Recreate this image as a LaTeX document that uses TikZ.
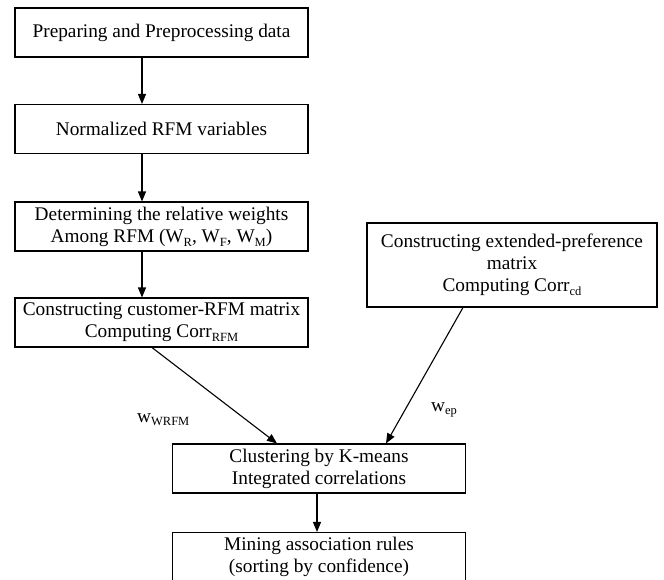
\documentclass[tikz,border=0pt]{standalone}
\usepackage{fontspec}
\setmainfont{Liberation Serif}
\usetikzlibrary{arrows.meta,positioning,calc}
\newcommand{\lowsub}[1]{\raisebox{-0.45ex}{\fontsize{12.5}{14}\selectfont #1}}

\begin{document}
\begin{tikzpicture}[
    x=1pt, y=-1pt,
    stage/.style={draw=black, line width=1.1pt, inner sep=1pt, align=center,
      minimum width=293pt, minimum height=49pt, font=\fontsize{19.3}{22}\selectfont},
    flow/.style={-{Triangle[length=10pt,width=8pt]}, line width=1.1pt},
    weight/.style={anchor=base west, inner sep=0pt, font=\fontsize{19.3}{22}\selectfont}
  ]
    \useasboundingbox (0,0) rectangle (664,579);
    % left column
    \node[stage] (prep)    at (161.5,32.5)  {Preparing and Preprocessing data};
    \node[stage] (norm)    at (161.5,129)   {Normalized RFM variables};
    \node[stage] (weights) at (161.5,226.5) {Determining the relative weights\\
      Among RFM (W\lowsub{R}, W\lowsub{F}, W\lowsub{M})};
    \node[stage] (crfm)    at (161.5,322.5) {Constructing customer-RFM matrix\\
      Computing Corr\lowsub{RFM}};
    % right branch
    \node[stage, minimum width=290pt, minimum height=84pt] (extpref) at (512,265)
      {Constructing extended-preference\\ matrix\\ Computing Corr\lowsub{cd}};
    % merged steps
    \node[stage] (cluster) at (319,468.5) {Clustering by K-means\\ Integrated correlations};
    \node[stage] (mining)  at (319,557)   {Mining association rules\\ (sorting by confidence)};
    % arrows
    \draw[flow] ([xshift=-19.5pt]prep.south)    -- ([xshift=-19.5pt]norm.north);
    \draw[flow] ([xshift=-19.5pt]norm.south)    -- ([xshift=-19.5pt]weights.north);
    \draw[flow] ([xshift=-19.5pt]weights.south) -- ([xshift=-19.5pt]crfm.north);
    \draw[flow] ([xshift=-9.5pt]crfm.south)     -- ([xshift=-42pt]cluster.north);
    \draw[flow] ([xshift=-49pt]extpref.south)   -- ([xshift=67pt]cluster.north);
    \draw[flow] ([xshift=-2pt]cluster.south)    -- ([xshift=-2pt]mining.north);
    % weights
    \node[weight] (wrfm) at (137,422) {w\lowsub{WRFM}};
    \node[weight] (wep)  at (431,411) {w\lowsub{ep}};
  \end{tikzpicture}
\end{document}
